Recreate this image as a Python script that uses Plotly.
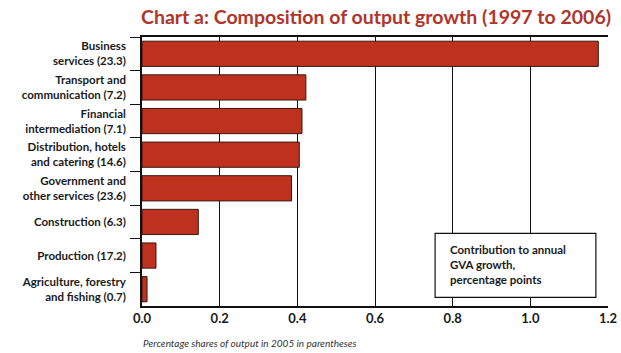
import plotly.graph_objects as go

categories = [
    "Business<br>services (23.3)",
    "Transport and<br>communication (7.2)",
    "Financial<br>intermediation (7.1)",
    "Distribution, hotels<br>and catering (14.6)",
    "Government and<br>other services (23.6)",
    "Construction (6.3)",
    "Production (17.2)",
    "Agriculture, forestry<br>and fishing (0.7)",
]
values = [1.175, 0.422, 0.412, 0.405, 0.385, 0.145, 0.036, 0.013]
tick_vals = [0.0, 0.2, 0.4, 0.6, 0.8, 1.0, 1.2]
tick_text = ["0.0", "0.2", "0.4", "0.6", "0.8", "1.0", "1.2"]

FONT = "Lato"
RED = "#bf311f"
TITLE_RED = "#b0352a"

fig = go.Figure()
fig.add_trace(go.Bar(
    x=values, y=categories, orientation="h",
    marker=dict(color=RED, line=dict(color="#3a1812", width=1)),
    hoverinfo="skip",
))

fig.update_layout(
    width=621, height=353,
    margin=dict(l=142, r=13, t=37, b=47, autoexpand=False),
    paper_bgcolor="white", plot_bgcolor="white",
    showlegend=False,
    bargap=0.25,
    font=dict(family=FONT, color="#1a1a1a"),
    xaxis=dict(
        range=[0, 1.2], tickvals=tick_vals, ticktext=tick_text,
        showgrid=True, gridcolor="#111111", gridwidth=1,
        showline=True, linecolor="#111111", linewidth=1.5, mirror=True,
        zeroline=False, ticks="", automargin=False,
        tickfont=dict(family=FONT, size=13, color="#1a1a1a", weight="bold"),
        fixedrange=True,
    ),
    yaxis=dict(
        autorange="reversed", categoryorder="array", categoryarray=categories,
        showline=True, linecolor="#111111", linewidth=1.5, automargin=False,
        ticks="outside", tickson="boundaries", ticklen=10, tickcolor="#111111", tickwidth=1,
        ticklabelstandoff=12,
        tickfont=dict(family=FONT, size=11.5, color="#1a1a1a", weight="bold"),
        showgrid=False, fixedrange=True,
    ),
)

fig.add_annotation(
    text="Chart a: Composition of output growth (1997 to 2006)",
    xref="paper", yref="paper", x=1.01, y=1, xanchor="right", yanchor="bottom",
    yshift=7, showarrow=False,
    font=dict(family=FONT, size=19.5, color=TITLE_RED, weight="bold"),
)

fig.add_shape(
    type="rect", xref="paper", yref="paper",
    x0=0.629, x1=0.974, y0=0.032, y1=0.270,
    line=dict(color="#111111", width=1.2), fillcolor="white", layer="above",
)
fig.add_annotation(
    text="Contribution to annual<br>GVA growth,<br>percentage points",
    xref="paper", yref="paper", x=0.656, y=0.153, xanchor="left", yanchor="middle",
    align="left", showarrow=False,
    font=dict(family=FONT, size=11.5, color="#1a1a1a", weight="bold"),
)

fig.add_annotation(
    text="<i>Percentage shares of output in 2005 in parentheses</i>",
    xref="paper", yref="paper", x=-0.002, y=0, xanchor="left", yanchor="top",
    yshift=-29, showarrow=False,
    font=dict(family=FONT, size=10, color="#333333"),
)

fig.write_html("out.html")
